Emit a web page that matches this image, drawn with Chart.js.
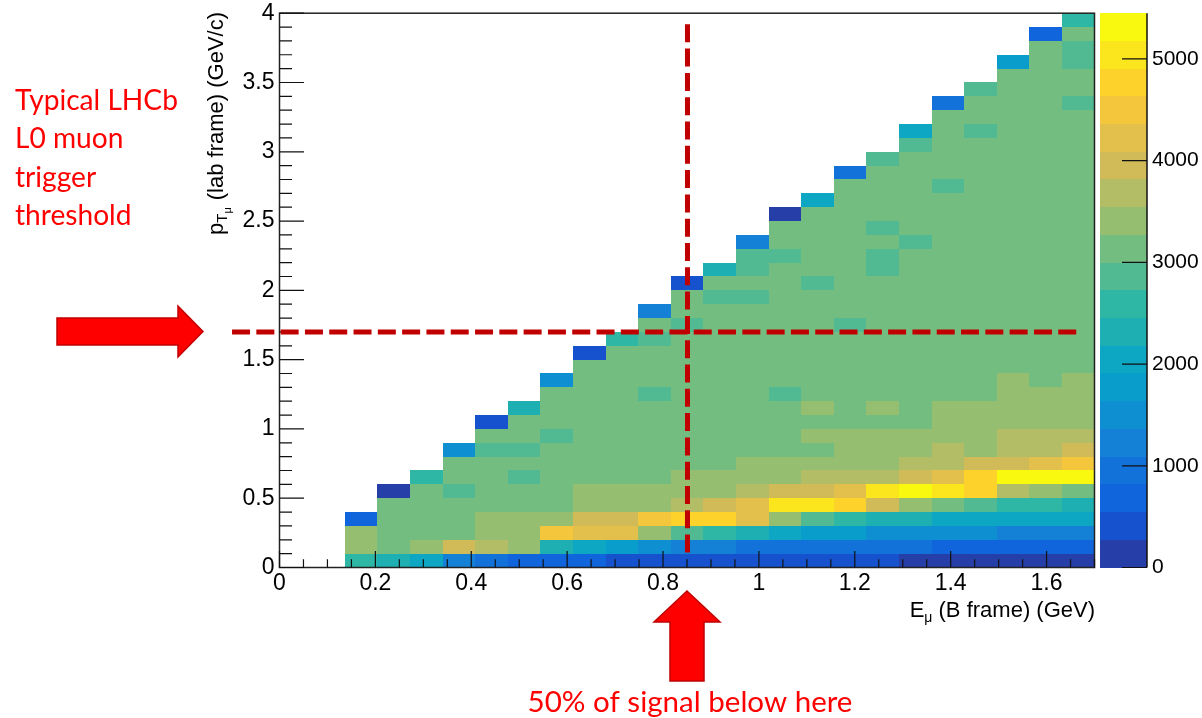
<!DOCTYPE html>
<html>
<head>
<meta charset="utf-8">
<script src="https://cdn.jsdelivr.net/npm/chart.js@4.4.1/dist/chart.umd.min.js"></script>
<style>
html,body{margin:0;padding:0;background:#ffffff;overflow:hidden;}
#wrap{width:1202px;height:718px;position:relative;}
canvas{display:block;}
</style>
</head>
<body>
<div id="wrap"><canvas id="c" width="1202" height="718"></canvas></div>
<script>
// ================= DATA =================
// x bins: E_mu (B frame) [GeV], 25 bins
const eBinEdges = [0, 0.068, 0.136, 0.204, 0.272, 0.34, 0.408, 0.476, 0.544, 0.612, 0.68, 0.748, 0.816,
  0.884, 0.952, 1.02, 1.088, 1.156, 1.224, 1.292, 1.36, 1.428, 1.496, 1.564, 1.632, 1.7];
// y bins: pT_mu (lab frame) [GeV/c], 40 bins
const ptBinEdges = [0, 0.1, 0.2, 0.3, 0.4, 0.5, 0.6, 0.7, 0.8, 0.9, 1.0, 1.1, 1.2, 1.3, 1.4, 1.5, 1.6, 1.7,
  1.8, 1.9, 2.0, 2.1, 2.2, 2.3, 2.4, 2.5, 2.6, 2.7, 2.8, 2.9, 3.0, 3.1, 3.2, 3.3, 3.4, 3.5, 3.6, 3.7, 3.8, 3.9, 4.0];

// bin contents, one array per pT row (bottom -> top), 25 E bins each
const pt00 = [0,0,2590,2320,2040,1230,950,680,690,670,410,405,415,400,410,420,410,400,415,140,135,140,130,140,135];
const pt01 = [0,0,3410,3130,3400,3950,3680,3410,2320,2040,1770,1500,1230,1240,950,960,940,950,955,945,680,690,675,680,670];
const pt02 = [0,0,3410,3130,3120,3140,3410,3400,4500,4220,4230,3410,2860,2590,2320,2040,1770,1760,1500,1510,1490,1500,1230,1220,1240];
const pt03 = [0,0,680,3130,3150,3110,3410,3420,3400,3950,3940,4500,4770,4760,4220,3410,2860,2590,2320,2330,2040,2050,2030,2040,2045];
const pt04 = [0,0,0,3130,3140,3120,3130,3150,3110,3410,3400,3420,3680,3950,4220,5040,5030,4770,3950,3410,3130,2860,2590,2600,2320];
const pt05 = [0,0,0,140,3130,2860,3140,3120,3130,3410,3420,3400,3410,3400,3680,3950,3960,4220,5040,5450,5050,4770,3680,3410,3130];
const pt06 = [0,0,0,0,2590,3130,3120,2860,3130,3140,3110,3130,3410,3400,3420,3410,3680,3690,3670,3950,4220,4770,5310,5300,5320];
const pt07 = [0,0,0,0,0,3130,3140,3120,3130,3150,3110,3130,3140,3120,3410,3400,3420,3410,3400,3680,3690,3950,3960,4220,4500];
const pt08 = [0,0,0,0,0,1500,2860,2850,3130,3140,3120,3130,3110,3150,3130,3120,3140,3410,3400,3420,3680,3410,3680,3690,3950];
const pt09 = [0,0,0,0,0,0,3130,3140,2860,3130,3120,3150,3130,3110,3140,3130,3410,3400,3420,3410,3400,3420,3680,3690,3670];
const pt10 = [0,0,0,0,0,0,410,3130,3140,3120,3130,3150,3110,3130,3140,3120,3130,3150,3130,3110,3410,3420,3400,3410,3420];
const pt11 = [0,0,0,0,0,0,0,2320,3130,3140,3120,3130,3150,3110,3130,3140,3410,3130,3400,3120,3410,3420,3400,3410,3420];
const pt12 = [0,0,0,0,0,0,0,0,3130,3140,3120,2860,3130,3150,3110,2870,3130,3140,3120,3130,3150,3110,3410,3400,3420];
const pt13 = [0,0,0,0,0,0,0,0,1500,3130,3140,3120,3130,3150,3110,3130,3140,3120,3130,3150,3110,3130,3410,3140,3400];
const pt14 = [0,0,0,0,0,0,0,0,0,3130,3140,3120,3130,3150,3110,3130,3140,3120,3130,3150,3110,3130,3140,3120,3130];
const pt15 = [0,0,0,0,0,0,0,0,0,410,3130,3140,3120,3130,3150,3110,3130,3140,3120,3130,3150,3110,3130,3140,3120];
const pt16 = [0,0,0,0,0,0,0,0,0,0,2590,2860,3130,3140,3120,3130,3150,3110,3130,3140,3120,3130,3150,3110,3130];
const pt17 = [0,0,0,0,0,0,0,0,0,0,0,3130,2860,3140,3120,3130,3150,2870,3130,3140,3120,3130,3150,3110,3130];
const pt18 = [0,0,0,0,0,0,0,0,0,0,0,1230,3130,3140,3120,3130,3150,3110,3130,3140,3120,3130,3150,3110,3130];
const pt19 = [0,0,0,0,0,0,0,0,0,0,0,0,3130,2860,2870,3130,3150,3110,3130,3140,3120,3130,3150,3110,3130];
const pt20 = [0,0,0,0,0,0,0,0,0,0,0,0,410,3130,3140,3120,2860,3150,3110,3130,3140,3120,3130,3150,3110];
const pt21 = [0,0,0,0,0,0,0,0,0,0,0,0,0,2320,2860,3130,3140,3120,2870,3130,3150,3110,3130,3140,3120];
const pt22 = [0,0,0,0,0,0,0,0,0,0,0,0,0,0,2860,2870,3130,3140,2850,3130,3150,3110,3130,3140,3120];
const pt23 = [0,0,0,0,0,0,0,0,0,0,0,0,0,0,1230,3130,3140,3120,3130,2860,3150,3110,3130,3140,3120];
const pt24 = [0,0,0,0,0,0,0,0,0,0,0,0,0,0,0,3130,3140,3120,2860,3130,3150,3110,3130,3140,3120];
const pt25 = [0,0,0,0,0,0,0,0,0,0,0,0,0,0,0,140,3130,3140,3120,3130,3150,3110,3130,3140,3120];
const pt26 = [0,0,0,0,0,0,0,0,0,0,0,0,0,0,0,0,2040,3130,3140,3120,3130,3150,3110,3130,3140];
const pt27 = [0,0,0,0,0,0,0,0,0,0,0,0,0,0,0,0,0,3130,3140,3120,2860,3150,3110,3130,3140];
const pt28 = [0,0,0,0,0,0,0,0,0,0,0,0,0,0,0,0,0,950,3130,3140,3120,3130,3150,3110,3130];
const pt29 = [0,0,0,0,0,0,0,0,0,0,0,0,0,0,0,0,0,0,2860,3130,3140,3120,3130,3150,3110];
const pt30 = [0,0,0,0,0,0,0,0,0,0,0,0,0,0,0,0,0,0,0,2860,3130,3140,3120,3130,3150];
const pt31 = [0,0,0,0,0,0,0,0,0,0,0,0,0,0,0,0,0,0,0,2040,3130,2860,3140,3120,3130];
const pt32 = [0,0,0,0,0,0,0,0,0,0,0,0,0,0,0,0,0,0,0,0,3130,3140,3120,3130,3150];
const pt33 = [0,0,0,0,0,0,0,0,0,0,0,0,0,0,0,0,0,0,0,0,950,3130,3140,3120,2860];
const pt34 = [0,0,0,0,0,0,0,0,0,0,0,0,0,0,0,0,0,0,0,0,0,2860,3130,3140,3120];
const pt35 = [0,0,0,0,0,0,0,0,0,0,0,0,0,0,0,0,0,0,0,0,0,0,3130,3140,3120];
const pt36 = [0,0,0,0,0,0,0,0,0,0,0,0,0,0,0,0,0,0,0,0,0,0,1770,3130,2860];
const pt37 = [0,0,0,0,0,0,0,0,0,0,0,0,0,0,0,0,0,0,0,0,0,0,0,3130,2870];
const pt38 = [0,0,0,0,0,0,0,0,0,0,0,0,0,0,0,0,0,0,0,0,0,0,0,680,3130];
const pt39 = [0,0,0,0,0,0,0,0,0,0,0,0,0,0,0,0,0,0,0,0,0,0,0,0,2590];

const ptRows = [pt00,pt01,pt02,pt03,pt04,pt05,pt06,pt07,pt08,pt09,pt10,pt11,pt12,pt13,pt14,pt15,pt16,pt17,pt18,pt19,
  pt20,pt21,pt22,pt23,pt24,pt25,pt26,pt27,pt28,pt29,pt30,pt31,pt32,pt33,pt34,pt35,pt36,pt37,pt38,pt39];

// axis ticks
const xTickValues = [0, 0.2, 0.4, 0.6, 0.8, 1.0, 1.2, 1.4, 1.6];
const xTickLabels = ['0', '0.2', '0.4', '0.6', '0.8', '1', '1.2', '1.4', '1.6'];
const yTickValues = [0, 0.5, 1.0, 1.5, 2.0, 2.5, 3.0, 3.5, 4.0];
const yTickLabels = ['0', '0.5', '1', '1.5', '2', '2.5', '3', '3.5', '4'];
const zTickValues = [0, 1000, 2000, 3000, 4000, 5000];
const zTickLabels = ['0', '1000', '2000', '3000', '4000', '5000'];

// annotation lines: trigger threshold (pT) and 50% signal point (E)
const thresholdLine = [{x: -0.099, y: 1.7}, {x: 1.663, y: 1.7}];
const medianLine = [{x: 0.851, y: 3.92}, {x: 0.851, y: 0.107}];

// ================= STYLE / PALETTE =================
const N_LEVELS = 20;
const zMax = Math.max(...ptRows.map(r => Math.max(...r)));
const BIRD_STOPS = [0.0, 0.125, 0.25, 0.375, 0.5, 0.625, 0.75, 0.875, 1.0];
const BIRD_R = [0.2082, 0.0592, 0.0780, 0.0232, 0.1802, 0.5301, 0.8186, 0.9956, 0.9764];
const BIRD_G = [0.1664, 0.3599, 0.5041, 0.6419, 0.7178, 0.7492, 0.7328, 0.7862, 0.9832];
const BIRD_B = [0.5293, 0.8684, 0.8385, 0.7914, 0.6425, 0.4662, 0.3499, 0.1968, 0.0539];
function buildPalette(n) {
  const pal = [];
  for (let g = 1; g < BIRD_STOPS.length; g++) {
    const nc = Math.floor(n * BIRD_STOPS[g]) - Math.floor(n * BIRD_STOPS[g - 1]);
    for (let c = 0; c < nc; c++) {
      const r = BIRD_R[g - 1] + c * (BIRD_R[g] - BIRD_R[g - 1]) / nc;
      const gg = BIRD_G[g - 1] + c * (BIRD_G[g] - BIRD_G[g - 1]) / nc;
      const b = BIRD_B[g - 1] + c * (BIRD_B[g] - BIRD_B[g - 1]) / nc;
      pal.push('rgb(' + Math.round(r * 255) + ',' + Math.round(gg * 255) + ',' + Math.round(b * 255) + ')');
    }
  }
  return pal;
}
const PALETTE = buildPalette(255);
function levelOf(v) {
  const l = Math.floor(0.01 + v * N_LEVELS / zMax);
  return Math.max(0, Math.min(N_LEVELS - 1, l));
}
function levelColor(level) {
  const idx = Math.min(PALETTE.length - 1, Math.floor((level + 0.99) * PALETTE.length / N_LEVELS));
  return PALETTE[idx];
}

const FONT = '"Liberation Sans", Arial, Helvetica, sans-serif';
const RED_FONT = 'Lato, "Open Sans", sans-serif';
const CB_OFFSET = 5.5, CB_WIDTH = 47;

function zeroPad(s) { s.paddingTop = 0; s.paddingBottom = 0; s.paddingLeft = 0; s.paddingRight = 0; }

const rootPlugin = {
  id: 'rootStyle',
  beforeDatasetsDraw(chart) {
    const {ctx, chartArea: a, scales: {x, y, z}} = chart;
    ctx.save();
    // heatmap cells
    for (let r = 0; r < ptRows.length; r++) {
      const row = ptRows[r];
      const yb = Math.round(y.getPixelForValue(ptBinEdges[r]));
      const yt = Math.round(y.getPixelForValue(ptBinEdges[r + 1]));
      for (let c = 0; c < row.length; c++) {
        const v = row[c];
        if (!(v > 0)) continue;
        const xl = Math.round(x.getPixelForValue(eBinEdges[c]));
        const xr = Math.round(x.getPixelForValue(eBinEdges[c + 1]));
        ctx.fillStyle = levelColor(levelOf(v));
        ctx.fillRect(xl, yt, xr - xl, yb - yt);
      }
    }
    // colour bar
    const cbL = z.left + CB_OFFSET, cbR = cbL + CB_WIDTH;
    for (let k = 0; k < N_LEVELS; k++) {
      const p0 = Math.round(z.getPixelForValue(k * zMax / N_LEVELS));
      const p1 = Math.round(z.getPixelForValue((k + 1) * zMax / N_LEVELS));
      ctx.fillStyle = levelColor(k);
      ctx.fillRect(cbL, p1, cbR - cbL, p0 - p1);
    }
    ctx.strokeStyle = '#111';
    ctx.lineWidth = 1.5;
    ctx.beginPath();
    ctx.moveTo(cbR, z.top); ctx.lineTo(cbR, z.bottom);
    ctx.stroke();
    ctx.lineWidth = 1.2;
    ctx.beginPath();
    zTickValues.forEach(v => {
      const p = z.getPixelForValue(v);
      ctx.moveTo(cbR, p); ctx.lineTo(cbR - 25, p);
    });
    ctx.stroke();

    // frame
    ctx.strokeStyle = '#222';
    ctx.lineWidth = 1.5;
    ctx.strokeRect(a.left, a.top, a.right - a.left, a.bottom - a.top);

    // ticks (ROOT style, inside frame)
    ctx.lineWidth = 1.2;
    ctx.strokeStyle = '#111';
    ctx.beginPath();
    for (let i = 0; i <= 34; i++) {
      const v = i * 0.05;
      const p = x.getPixelForValue(v);
      const len = (i % 4 === 0) ? 16.5 : 8.2;
      ctx.moveTo(p, a.bottom); ctx.lineTo(p, a.bottom - len);
    }
    for (let i = 0; i <= 40; i++) {
      const v = i * 0.1;
      const p = y.getPixelForValue(v);
      const len = (i % 5 === 0) ? 24.5 : 12.5;
      ctx.moveTo(a.left, p); ctx.lineTo(a.left + len, p);
    }
    ctx.stroke();

    // axis titles
    ctx.fillStyle = '#000';
    ctx.textBaseline = 'alphabetic';
    // x title: E_mu (B frame) (GeV)
    ctx.font = '22px ' + FONT;
    ctx.textAlign = 'right';
    const xtRight = a.right + 0.5, xtBase = 617;
    const rest = ' (B frame) (GeV)';
    ctx.fillText(rest, xtRight, xtBase);
    const wRest = ctx.measureText(rest).width;
    ctx.font = '14px ' + FONT;
    const wMu = ctx.measureText('\u03bc').width;
    ctx.textAlign = 'left';
    ctx.fillText('\u03bc', xtRight - wRest - wMu, xtBase + 5);
    ctx.font = '22px ' + FONT;
    ctx.textAlign = 'right';
    ctx.fillText('E', xtRight - wRest - wMu, xtBase);

    // y title: p_{T_mu} (lab frame) (GeV/c)
    ctx.save();
    ctx.translate(222.5, 0);
    ctx.rotate(-Math.PI / 2);
    let u = -235;
    ctx.textAlign = 'left';
    ctx.font = '22px ' + FONT;
    ctx.fillText('p', u, 0); u += ctx.measureText('p').width;
    ctx.font = '15px ' + FONT;
    ctx.fillText('T', u, 4.5); u += ctx.measureText('T').width;
    ctx.font = '11px ' + FONT;
    ctx.fillText('\u03bc', u, 8);
    ctx.font = '22px ' + FONT;
    ctx.textAlign = 'right';
    ctx.fillText('(lab frame) (GeV/c)', -12, 0);
    ctx.restore();

    ctx.restore();
  },
  afterDraw(chart) {
    const ctx = chart.ctx;
    ctx.save();
    // arrows
    ctx.fillStyle = '#ff0000';
    ctx.strokeStyle = '#c00000';
    ctx.lineWidth = 1.5;
    ctx.lineJoin = 'miter';
    const leftArrow = [[57, 318], [178, 318], [178, 306], [203, 331.5], [178, 357], [178, 345], [57, 345]];
    const upArrow = [[687, 591], [720, 622], [704, 622], [704, 681], [670, 681], [670, 622], [654, 622]];
    [leftArrow, upArrow].forEach(poly => {
      ctx.beginPath();
      poly.forEach((p, i) => i ? ctx.lineTo(p[0], p[1]) : ctx.moveTo(p[0], p[1]));
      ctx.closePath();
      ctx.fill();
      ctx.stroke();
    });
    // red annotation texts
    ctx.fillStyle = '#ff0000';
    ctx.textBaseline = 'alphabetic';
    ctx.font = '30px ' + RED_FONT;
    const fs = 30 * 163 / ctx.measureText('Typical LHCb').width;
    ctx.font = fs.toFixed(2) + 'px ' + RED_FONT;
    ctx.textAlign = 'left';
    const lines = ['Typical LHCb', 'L0 muon', 'trigger', 'threshold'];
    lines.forEach((t, i) => ctx.fillText(t, 15, 110 + i * 38.4));
    const bottomText = '50% of signal below here';
    ctx.font = '30px ' + RED_FONT;
    const fs2 = 30 * 325 / ctx.measureText(bottomText).width;
    ctx.font = fs2.toFixed(2) + 'px ' + RED_FONT;
    ctx.textAlign = 'center';
    ctx.fillText(bottomText, 690, 712);
    ctx.restore();
  }
};

Chart.defaults.font.family = FONT;
Chart.defaults.color = '#000';

new Chart(document.getElementById('c'), {
  type: 'scatter',
  data: {
    datasets: [
      {
        label: 'L0 muon threshold',
        data: thresholdLine,
        showLine: true,
        borderColor: '#c00000',
        borderWidth: 5,
        borderDash: [18, 6.3],
        borderCapStyle: 'butt',
        pointRadius: 0,
        clip: false,
        tension: 0
      },
      {
        label: '50% of signal',
        data: medianLine,
        showLine: true,
        borderColor: '#c00000',
        borderWidth: 5,
        borderDash: [18, 6.3],
        borderCapStyle: 'butt',
        pointRadius: 0,
        clip: false,
        tension: 0
      }
    ]
  },
  options: {
    responsive: false,
    devicePixelRatio: 1,
    animation: false,
    events: [],
    layout: {padding: {top: 13.2, right: 0, bottom: 0, left: 0}},
    plugins: {legend: {display: false}, tooltip: {enabled: false}, title: {display: false}},
    scales: {
      x: {
        type: 'linear', position: 'bottom', min: 0, max: 1.7,
        grid: {display: false, drawTicks: false},
        border: {display: false},
        ticks: {
          font: {size: 23, family: FONT}, color: '#000', padding: 2, maxRotation: 0, autoSkip: false,
          callback: (v, i) => xTickLabels[i]
        },
        afterBuildTicks: s => { s.ticks = xTickValues.map(v => ({value: v})); },
        afterFit: s => { s.height = 718 - 567.5; zeroPad(s); }
      },
      y: {
        type: 'linear', position: 'left', min: 0, max: 4,
        grid: {display: false, drawTicks: false},
        border: {display: false},
        ticks: {
          font: {size: 23, family: FONT}, color: '#000', padding: 5, autoSkip: false,
          callback: (v, i) => yTickLabels[i]
        },
        afterBuildTicks: s => { s.ticks = yTickValues.map(v => ({value: v})); },
        afterFit: s => { s.width = 279.5; zeroPad(s); }
      },
      z: {
        axis: 'y', type: 'linear', position: 'right', min: 0, max: zMax,
        grid: {display: false, drawTicks: false},
        border: {display: false},
        ticks: {
          font: {size: 21, family: FONT}, color: '#000', padding: 57.5, autoSkip: false,
          callback: (v, i) => zTickLabels[i]
        },
        afterBuildTicks: s => { s.ticks = zTickValues.map(v => ({value: v})); },
        afterFit: s => { s.width = 1202 - 1094.5; zeroPad(s); }
      }
    }
  },
  plugins: [rootPlugin]
});
</script>
</body>
</html>
